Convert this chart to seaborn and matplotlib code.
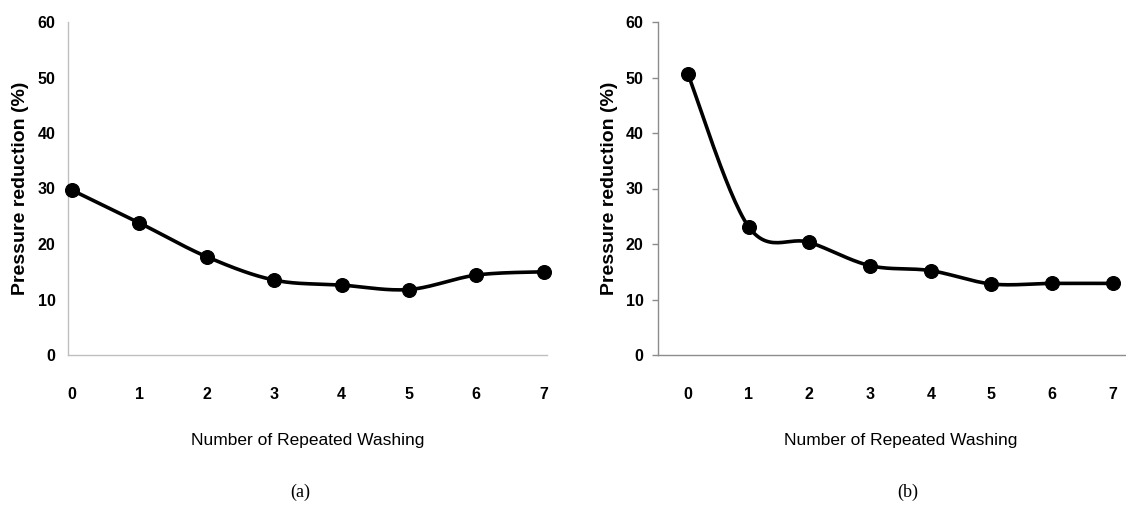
import numpy as np
import pandas as pd
import seaborn as sns
import matplotlib.pyplot as plt

# data
washes = [0, 1, 2, 3, 4, 5, 6, 7]
reduction_a = [29.7, 23.8, 17.7, 13.5, 12.6, 11.8, 14.4, 15.0]
reduction_b = [50.6, 23.1, 20.3, 16.1, 15.2, 12.8, 12.9, 12.9]
y_ticks = [0, 10, 20, 30, 40, 50, 60]


def smooth(x, y, n=30):
    # excel style "smoothed line": bezier segments with catmull-rom control points
    p = np.column_stack([x, y]).astype(float)
    p = np.vstack([p[0], p, p[-1]])
    t = np.linspace(0, 1, n)[:, None]
    out = []
    for i in range(len(x) - 1):
        p0, p1, p2, p3 = p[i], p[i + 1], p[i + 2], p[i + 3]
        c1 = p1 + (p2 - p0) / 6
        c2 = p2 - (p3 - p1) / 6
        seg = (1 - t) ** 3 * p1 + 3 * (1 - t) ** 2 * t * c1 + 3 * (1 - t) * t ** 2 * c2 + t ** 3 * p2
        out.append(seg if i == 0 else seg[1:])
    out = np.vstack(out)
    return pd.DataFrame({"x": out[:, 0], "y": out[:, 1]})


sns.set_style("white")
plt.rcParams["font.family"] = ["Liberation Sans", "DejaVu Sans"]
plt.rcParams["text.color"] = "black"
plt.rcParams["axes.labelcolor"] = "black"
plt.rcParams["xtick.color"] = "black"
plt.rcParams["ytick.color"] = "black"

fig = plt.figure(figsize=(11.26, 5.08), dpi=100)
W, H = 1126, 508

panels = [
    # data, left px, width px, xlim, show y ticks, axis colour, caption x, caption
    (reduction_a, 68, 479, (-0.06, 7.05), False, "#bfbfbf", 300, "(a)"),
    (reduction_b, 657.6, 485.6, (-0.5, 7.5), True, "#8c8c8c", 908, "(b)"),
]

for vals, left, width, xlim, yticks_on, axis_grey, cap_x, cap in panels:
    ax = fig.add_axes([left / W, (H - 355) / H, width / W, 333 / H])
    curve = smooth(washes, vals)
    sns.lineplot(data=curve, x="x", y="y", ax=ax, color="black", lw=2.6, sort=False)
    pts = pd.DataFrame({"wash": washes, "red": vals})
    sns.scatterplot(data=pts, x="wash", y="red", ax=ax, color="black", s=100,
                    edgecolor="black", zorder=3, clip_on=False)
    ax.set_xlim(*xlim)
    ax.set_ylim(0, 60)
    ax.set_xticks(washes)
    ax.set_yticks(y_ticks)
    for s in ["top", "right"]:
        ax.spines[s].set_visible(False)
    for s in ["left", "bottom"]:
        ax.spines[s].set_color(axis_grey)
        ax.spines[s].set_linewidth(1.0)
    ax.tick_params(axis="x", length=0, pad=23, labelsize=11.5)
    if yticks_on:
        ax.tick_params(axis="y", length=4, width=1, color=axis_grey, pad=6, labelsize=11.5, left=True)
    else:
        ax.tick_params(axis="y", length=0, pad=9, labelsize=11.5)
    for lab in ax.get_xticklabels() + ax.get_yticklabels():
        lab.set_fontweight("bold")
    ax.set_xlabel("Number of Repeated Washing", fontsize=12.5, labelpad=22)
    ax.set_ylabel("Pressure reduction (%)", fontsize=14, fontweight="bold", labelpad=6)
    fig.text(cap_x / W, (H - 492) / H, cap, ha="center", va="center",
             fontsize=13, family="Liberation Serif")

fig.savefig("out.png", dpi=100)
